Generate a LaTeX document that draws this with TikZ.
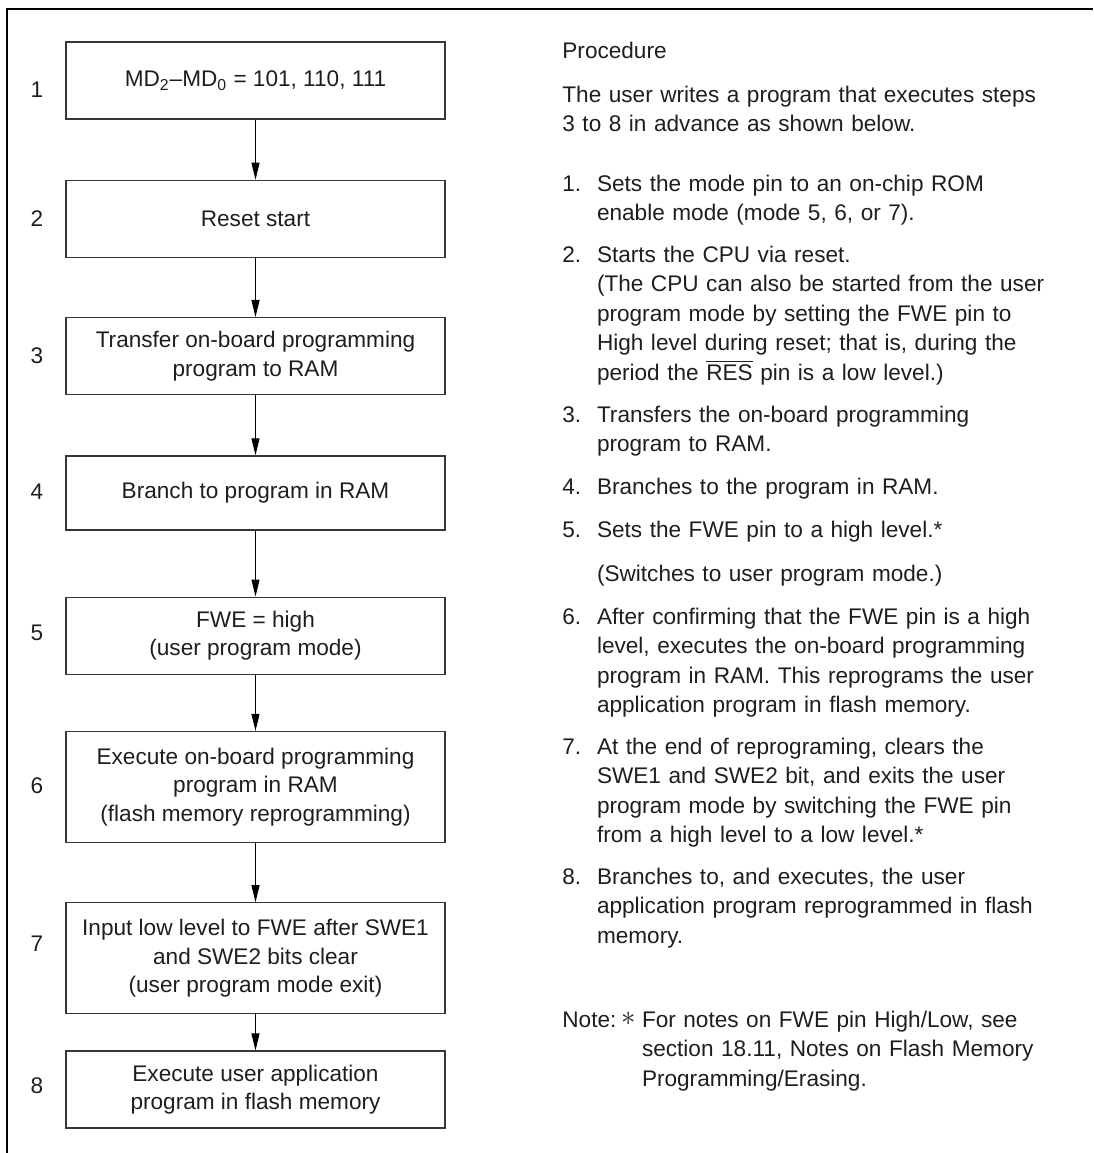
\documentclass[tikz,border=0pt]{standalone}
\usepackage{fontspec}
\setmainfont{Liberation Sans}
\usetikzlibrary{arrows.meta,positioning}
\definecolor{boxgray}{RGB}{55,55,55}
\definecolor{inkblack}{RGB}{30,30,30}
\newcommand{\boxfont}{\fontsize{11.3}{14.25}\selectfont}
\newcommand{\listfont}{\fontsize{11.3}{14.75}\selectfont}
\newcommand{\barred}[1]{$\overline{\mbox{#1}}$}
\tikzset{
  stepbox/.style={draw=boxgray, line width=0.65pt, minimum width=189.5pt,
    minimum height=38.5pt, align=center, inner sep=2pt, font=\boxfont, text=inkblack},
  stepnum/.style={inner sep=0pt, font=\boxfont, text=inkblack},
  itemnum/.style={anchor=base west, inner sep=0pt, font=\listfont, text=inkblack},
  itemtext/.style={anchor=base west, inner sep=0pt, text width=250pt,
    align=left, font=\listfont, text=inkblack},
  flow/.style={-{Triangle[length=8.5pt,width=4pt]}, line width=0.5pt},
  frameline/.style={line width=1pt}
}

\begin{document}
\begin{tikzpicture}
\useasboundingbox (0,0) rectangle (547pt,-576.5pt);
\draw[frameline] (3.5pt,-576.5pt) |- (546.5pt,-4.5pt);

% flow chart
\node[stepbox] (b1) at (127.75pt,-40.25pt) {MD\textsubscript{2}--MD\textsubscript{0} = 101, 110, 111};
\node[stepbox, below=30pt of b1] (b2) {Reset start};
\node[stepbox, below=29.5pt of b2] (b3) {Transfer on-board programming\\program to RAM};
\node[stepbox, below=30pt of b3, minimum height=37pt] (b4) {Branch to program in RAM};
\node[stepbox, below=33pt of b4] (b5) {FWE = high\\(user program mode)};
\node[stepbox, below=28pt of b5, minimum height=55.5pt] (b6) {Execute on-board programming\\program in RAM\\(flash memory reprogramming)};
\node[stepbox, below=29.5pt of b6, minimum height=55.5pt] (b7) {Input low level to FWE after SWE1\\and SWE2 bits clear\\(user program mode exit)};
\node[stepbox, below=18pt of b7] (b8) {Execute user application\\program in flash memory};

\coordinate (numcol) at (18.5pt,0);
\foreach \i/\dy in {1/-4.75,2/0,3/0,4/0.75,5/1.25,6/0.75,7/7.25,8/2}
  \node[stepnum, yshift=\dy pt] (n\i) at (numcol |- b\i) {\i};

\foreach \a/\b in {1/2,2/3,3/4,4/5,5/6,6/7,7/8}
  \draw[flow] (b\a) -- (b\b);

% procedure text
\coordinate (txtcol) at (298.3pt,0);
\node[itemnum] (proc) at (281pt,-29pt) {Procedure};
\node[itemtext] (intro) at (281pt,-51pt) {The user writes a program that executes steps\\3 to 8 in advance as shown below.};

\foreach \i/\y in {1/95.5,2/131,3/211,4/247,5/268.5,6/312,7/377,8/442}
  \node[itemnum] (k\i) at (281pt,-\y pt) {\i.};

\node[itemtext] (t1) at (txtcol |- k1.base) {Sets the mode pin to an on-chip ROM\\enable mode (mode 5, 6, or 7).};
\node[itemtext] (t2) at (txtcol |- k2.base) {Starts the CPU via reset.\\(The CPU can also be started from the user\\program mode by setting the FWE pin to\\High level during reset; that is, during the\\period the \barred{RES} pin is a low level.)};
\node[itemtext] (t3) at (txtcol |- k3.base) {Transfers the on-board programming\\program to RAM.};
\node[itemtext] (t4) at (txtcol |- k4.base) {Branches to the program in RAM.};
\node[itemtext] (t5) at (txtcol |- k5.base) {Sets the FWE pin to a high level.*};
\node[itemtext] (t5b) at (298.3pt,-290.5pt) {(Switches to user program mode.)};
\node[itemtext] (t6) at (txtcol |- k6.base) {After confirming that the FWE pin is a high\\level, executes the on-board programming\\program in RAM. This reprograms the user\\application program in flash memory.};
\node[itemtext] (t7) at (txtcol |- k7.base) {At the end of reprograming, clears the\\SWE1 and SWE2 bit, and exits the user\\program mode by switching the FWE pin\\from a high level to a low level.*};
\node[itemtext] (t8) at (txtcol |- k8.base) {Branches to, and executes, the user\\application program reprogrammed in flash\\memory.};

\node[itemnum] (note) at (281pt,-513.5pt) {Note:};
\node[itemnum, font=\fontsize{15}{15}\selectfont] (star) at (310.5pt,-512.5pt) {$\ast$};
\node[itemtext] (notetext) at (320.8pt,-513.5pt) {For notes on FWE pin High/Low, see\\section 18.11, Notes on Flash Memory\\Programming/Erasing.};
\end{tikzpicture}
\end{document}
